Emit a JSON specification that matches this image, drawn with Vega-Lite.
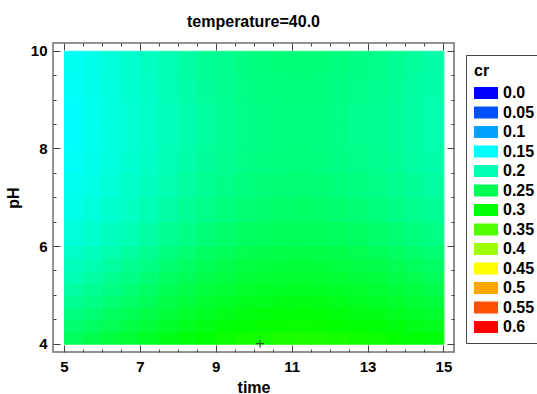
{
"$schema": "https://vega.github.io/schema/vega-lite/v6.json",
"autosize": {"type": "none"},
"padding": {"left": 53, "top": 43, "right": 83, "bottom": 42},
"width": 401,
"height": 309,
"background": "white",
"config": {
  "view": {"stroke": "#707070", "strokeWidth": 1.5},
  "font": "Liberation Sans",
  "axis": {"labelFont": "Liberation Sans", "labelFontWeight": "bold", "labelFontSize": 15, "labelColor": "black", "titleFont": "Liberation Sans", "titleFontWeight": "bold", "titleFontSize": 16, "titleColor": "black", "domain": false, "grid": false, "tickColor": "#444", "tickWidth": 1, "labelFlush": false, "labelOverlap": false}
},
"title": {"text": "temperature=40.0", "font": "Liberation Sans", "fontSize": 16, "fontWeight": "bold", "color": "black", "frame": "group", "baseline": "alphabetic", "offset": 0, "anchor": "middle"},
"layer": [
  {
    "data": {"values": [
{"t":5,"p":6,"cr":0.175},{"t":5.5,"p":6,"cr":0.183},{"t":6,"p":6,"cr":0.191},{"t":6.5,"p":6,"cr":0.199},{"t":7,"p":6,"cr":0.207},{"t":7.5,"p":6,"cr":0.216},{"t":8,"p":6,"cr":0.223},{"t":8.5,"p":6,"cr":0.230},{"t":9,"p":6,"cr":0.236},{"t":9.5,"p":6,"cr":0.241},{"t":10,"p":6,"cr":0.244},{"t":10.5,"p":6,"cr":0.246},{"t":11,"p":6,"cr":0.247},{"t":11.5,"p":6,"cr":0.246},{"t":12,"p":6,"cr":0.243},{"t":12.5,"p":6,"cr":0.240},{"t":13,"p":6,"cr":0.237},{"t":13.5,"p":6,"cr":0.232},{"t":14,"p":6,"cr":0.227},{"t":14.5,"p":6,"cr":0.222},
{"t":5,"p":6.5,"cr":0.166},{"t":5.5,"p":6.5,"cr":0.174},{"t":6,"p":6.5,"cr":0.182},{"t":6.5,"p":6.5,"cr":0.190},{"t":7,"p":6.5,"cr":0.198},{"t":7.5,"p":6.5,"cr":0.207},{"t":8,"p":6.5,"cr":0.214},{"t":8.5,"p":6.5,"cr":0.221},{"t":9,"p":6.5,"cr":0.227},{"t":9.5,"p":6.5,"cr":0.232},{"t":10,"p":6.5,"cr":0.235},{"t":10.5,"p":6.5,"cr":0.237},{"t":11,"p":6.5,"cr":0.238},{"t":11.5,"p":6.5,"cr":0.237},{"t":12,"p":6.5,"cr":0.234},{"t":12.5,"p":6.5,"cr":0.231},{"t":13,"p":6.5,"cr":0.228},{"t":13.5,"p":6.5,"cr":0.223},{"t":14,"p":6.5,"cr":0.218},{"t":14.5,"p":6.5,"cr":0.213},
{"t":5,"p":7,"cr":0.160},{"t":5.5,"p":7,"cr":0.168},{"t":6,"p":7,"cr":0.176},{"t":6.5,"p":7,"cr":0.184},{"t":7,"p":7,"cr":0.192},{"t":7.5,"p":7,"cr":0.201},{"t":8,"p":7,"cr":0.208},{"t":8.5,"p":7,"cr":0.215},{"t":9,"p":7,"cr":0.221},{"t":9.5,"p":7,"cr":0.226},{"t":10,"p":7,"cr":0.229},{"t":10.5,"p":7,"cr":0.231},{"t":11,"p":7,"cr":0.232},{"t":11.5,"p":7,"cr":0.231},{"t":12,"p":7,"cr":0.228},{"t":12.5,"p":7,"cr":0.225},{"t":13,"p":7,"cr":0.222},{"t":13.5,"p":7,"cr":0.217},{"t":14,"p":7,"cr":0.212},{"t":14.5,"p":7,"cr":0.207},
{"t":5,"p":7.5,"cr":0.156},{"t":5.5,"p":7.5,"cr":0.164},{"t":6,"p":7.5,"cr":0.172},{"t":6.5,"p":7.5,"cr":0.180},{"t":7,"p":7.5,"cr":0.188},{"t":7.5,"p":7.5,"cr":0.197},{"t":8,"p":7.5,"cr":0.204},{"t":8.5,"p":7.5,"cr":0.211},{"t":9,"p":7.5,"cr":0.217},{"t":9.5,"p":7.5,"cr":0.222},{"t":10,"p":7.5,"cr":0.225},{"t":10.5,"p":7.5,"cr":0.227},{"t":11,"p":7.5,"cr":0.228},{"t":11.5,"p":7.5,"cr":0.227},{"t":12,"p":7.5,"cr":0.224},{"t":12.5,"p":7.5,"cr":0.221},{"t":13,"p":7.5,"cr":0.218},{"t":13.5,"p":7.5,"cr":0.213},{"t":14,"p":7.5,"cr":0.208},{"t":14.5,"p":7.5,"cr":0.203},
{"t":5,"p":8,"cr":0.154},{"t":5.5,"p":8,"cr":0.162},{"t":6,"p":8,"cr":0.170},{"t":6.5,"p":8,"cr":0.178},{"t":7,"p":8,"cr":0.186},{"t":7.5,"p":8,"cr":0.195},{"t":8,"p":8,"cr":0.202},{"t":8.5,"p":8,"cr":0.209},{"t":9,"p":8,"cr":0.215},{"t":9.5,"p":8,"cr":0.220},{"t":10,"p":8,"cr":0.223},{"t":10.5,"p":8,"cr":0.225},{"t":11,"p":8,"cr":0.226},{"t":11.5,"p":8,"cr":0.225},{"t":12,"p":8,"cr":0.222},{"t":12.5,"p":8,"cr":0.219},{"t":13,"p":8,"cr":0.216},{"t":13.5,"p":8,"cr":0.211},{"t":14,"p":8,"cr":0.206},{"t":14.5,"p":8,"cr":0.201},
{"t":5,"p":8.5,"cr":0.154},{"t":5.5,"p":8.5,"cr":0.162},{"t":6,"p":8.5,"cr":0.170},{"t":6.5,"p":8.5,"cr":0.178},{"t":7,"p":8.5,"cr":0.186},{"t":7.5,"p":8.5,"cr":0.195},{"t":8,"p":8.5,"cr":0.202},{"t":8.5,"p":8.5,"cr":0.209},{"t":9,"p":8.5,"cr":0.215},{"t":9.5,"p":8.5,"cr":0.220},{"t":10,"p":8.5,"cr":0.223},{"t":10.5,"p":8.5,"cr":0.225},{"t":11,"p":8.5,"cr":0.226},{"t":11.5,"p":8.5,"cr":0.225},{"t":12,"p":8.5,"cr":0.222},{"t":12.5,"p":8.5,"cr":0.219},{"t":13,"p":8.5,"cr":0.216},{"t":13.5,"p":8.5,"cr":0.211},{"t":14,"p":8.5,"cr":0.206},{"t":14.5,"p":8.5,"cr":0.201},
{"t":5,"p":9,"cr":0.156},{"t":5.5,"p":9,"cr":0.164},{"t":6,"p":9,"cr":0.172},{"t":6.5,"p":9,"cr":0.180},{"t":7,"p":9,"cr":0.188},{"t":7.5,"p":9,"cr":0.197},{"t":8,"p":9,"cr":0.204},{"t":8.5,"p":9,"cr":0.211},{"t":9,"p":9,"cr":0.217},{"t":9.5,"p":9,"cr":0.222},{"t":10,"p":9,"cr":0.225},{"t":10.5,"p":9,"cr":0.227},{"t":11,"p":9,"cr":0.228},{"t":11.5,"p":9,"cr":0.227},{"t":12,"p":9,"cr":0.224},{"t":12.5,"p":9,"cr":0.221},{"t":13,"p":9,"cr":0.218},{"t":13.5,"p":9,"cr":0.213},{"t":14,"p":9,"cr":0.208},{"t":14.5,"p":9,"cr":0.203},
{"t":5,"p":9.5,"cr":0.158},{"t":5.5,"p":9.5,"cr":0.166},{"t":6,"p":9.5,"cr":0.174},{"t":6.5,"p":9.5,"cr":0.182},{"t":7,"p":9.5,"cr":0.190},{"t":7.5,"p":9.5,"cr":0.199},{"t":8,"p":9.5,"cr":0.206},{"t":8.5,"p":9.5,"cr":0.213},{"t":9,"p":9.5,"cr":0.219},{"t":9.5,"p":9.5,"cr":0.224},{"t":10,"p":9.5,"cr":0.227},{"t":10.5,"p":9.5,"cr":0.229},{"t":11,"p":9.5,"cr":0.230},{"t":11.5,"p":9.5,"cr":0.229},{"t":12,"p":9.5,"cr":0.226},{"t":12.5,"p":9.5,"cr":0.223},{"t":13,"p":9.5,"cr":0.220},{"t":13.5,"p":9.5,"cr":0.215},{"t":14,"p":9.5,"cr":0.210},{"t":14.5,"p":9.5,"cr":0.205}
    ]},
    "mark": {"type": "rect", "strokeWidth": 1},
    "encoding": {
      "x": {"field": "t", "type": "quantitative", "bin": {"binned": true, "step": 0.5},
        "scale": {"domain": [4.71, 15.28], "nice": false, "zero": false},
        "axis": {"orient": "bottom", "values": [5,5.5,6,6.5,7,7.5,8,8.5,9,9.5,10,10.5,11,11.5,12,12.5,13,13.5,14,14.5,15], "labelExpr": "datum.value % 2 == 1 ? format(datum.value, 'd') : ''", "tickSize": {"condition": {"test": "datum.value % 2 == 1", "value": -7}, "value": -3}, "labelPadding": 14, "title": "time", "titlePadding": 1}},
      "y": {"field": "p", "type": "quantitative", "bin": {"binned": true, "step": 0.5},
        "scale": {"domain": [3.83, 10.16], "nice": false, "zero": false},
        "axis": {"orient": "left", "values": [4,4.5,5,5.5,6,6.5,7,7.5,8,8.5,9,9.5,10], "labelExpr": "datum.value % 2 == 0 ? format(datum.value, 'd') : ''", "tickSize": {"condition": {"test": "datum.value % 2 == 0", "value": -7}, "value": -3}, "labelPadding": 13, "title": "pH", "titlePadding": 9}},
      "color": {"field": "cr", "type": "quantitative", "legend": null,
        "scale": {"type": "linear", "domain": [0,0.05,0.1,0.15,0.2,0.25,0.3,0.35,0.4,0.45,0.5,0.55,0.6], "range": ["#0000ff","#0050ff","#00a0ff","#00ffff","#00ffb0","#00ff50","#00ff00","#50ff00","#a0ff00","#ffff00","#ffa500","#ff5000","#ff0000"], "interpolate": "rgb"}},
      "stroke": {"field": "cr", "type": "quantitative", "legend": null,
        "scale": {"type": "linear", "domain": [0,0.05,0.1,0.15,0.2,0.25,0.3,0.35,0.4,0.45,0.5,0.55,0.6], "range": ["#0000ff","#0050ff","#00a0ff","#00ffff","#00ffb0","#00ff50","#00ff00","#50ff00","#a0ff00","#ffff00","#ffa500","#ff5000","#ff0000"], "interpolate": "rgb"}}
    }
  },
  {
    "data": {"values": [
{"t":5,"p":4,"cr":0.245},{"t":5.5,"p":4,"cr":0.253},{"t":6,"p":4,"cr":0.261},{"t":6.5,"p":4,"cr":0.269},{"t":7,"p":4,"cr":0.277},{"t":7.5,"p":4,"cr":0.286},{"t":8,"p":4,"cr":0.293},{"t":8.5,"p":4,"cr":0.300},{"t":9,"p":4,"cr":0.306},{"t":9.5,"p":4,"cr":0.311},{"t":10,"p":4,"cr":0.314},{"t":10.5,"p":4,"cr":0.316},{"t":11,"p":4,"cr":0.317},{"t":11.5,"p":4,"cr":0.316},{"t":12,"p":4,"cr":0.313},{"t":12.5,"p":4,"cr":0.310},{"t":13,"p":4,"cr":0.307},{"t":13.5,"p":4,"cr":0.302},{"t":14,"p":4,"cr":0.297},{"t":14.5,"p":4,"cr":0.292},
{"t":5,"p":4.25,"cr":0.234},{"t":5.5,"p":4.25,"cr":0.242},{"t":6,"p":4.25,"cr":0.250},{"t":6.5,"p":4.25,"cr":0.258},{"t":7,"p":4.25,"cr":0.266},{"t":7.5,"p":4.25,"cr":0.275},{"t":8,"p":4.25,"cr":0.282},{"t":8.5,"p":4.25,"cr":0.289},{"t":9,"p":4.25,"cr":0.295},{"t":9.5,"p":4.25,"cr":0.300},{"t":10,"p":4.25,"cr":0.303},{"t":10.5,"p":4.25,"cr":0.305},{"t":11,"p":4.25,"cr":0.306},{"t":11.5,"p":4.25,"cr":0.305},{"t":12,"p":4.25,"cr":0.302},{"t":12.5,"p":4.25,"cr":0.299},{"t":13,"p":4.25,"cr":0.296},{"t":13.5,"p":4.25,"cr":0.291},{"t":14,"p":4.25,"cr":0.286},{"t":14.5,"p":4.25,"cr":0.281},
{"t":5,"p":4.5,"cr":0.224},{"t":5.5,"p":4.5,"cr":0.232},{"t":6,"p":4.5,"cr":0.240},{"t":6.5,"p":4.5,"cr":0.248},{"t":7,"p":4.5,"cr":0.256},{"t":7.5,"p":4.5,"cr":0.265},{"t":8,"p":4.5,"cr":0.272},{"t":8.5,"p":4.5,"cr":0.279},{"t":9,"p":4.5,"cr":0.285},{"t":9.5,"p":4.5,"cr":0.290},{"t":10,"p":4.5,"cr":0.293},{"t":10.5,"p":4.5,"cr":0.295},{"t":11,"p":4.5,"cr":0.296},{"t":11.5,"p":4.5,"cr":0.295},{"t":12,"p":4.5,"cr":0.292},{"t":12.5,"p":4.5,"cr":0.289},{"t":13,"p":4.5,"cr":0.286},{"t":13.5,"p":4.5,"cr":0.281},{"t":14,"p":4.5,"cr":0.276},{"t":14.5,"p":4.5,"cr":0.271},
{"t":5,"p":4.75,"cr":0.215},{"t":5.5,"p":4.75,"cr":0.223},{"t":6,"p":4.75,"cr":0.231},{"t":6.5,"p":4.75,"cr":0.239},{"t":7,"p":4.75,"cr":0.247},{"t":7.5,"p":4.75,"cr":0.256},{"t":8,"p":4.75,"cr":0.263},{"t":8.5,"p":4.75,"cr":0.270},{"t":9,"p":4.75,"cr":0.276},{"t":9.5,"p":4.75,"cr":0.281},{"t":10,"p":4.75,"cr":0.284},{"t":10.5,"p":4.75,"cr":0.286},{"t":11,"p":4.75,"cr":0.287},{"t":11.5,"p":4.75,"cr":0.286},{"t":12,"p":4.75,"cr":0.283},{"t":12.5,"p":4.75,"cr":0.280},{"t":13,"p":4.75,"cr":0.277},{"t":13.5,"p":4.75,"cr":0.272},{"t":14,"p":4.75,"cr":0.267},{"t":14.5,"p":4.75,"cr":0.262},
{"t":5,"p":5,"cr":0.207},{"t":5.5,"p":5,"cr":0.215},{"t":6,"p":5,"cr":0.223},{"t":6.5,"p":5,"cr":0.231},{"t":7,"p":5,"cr":0.239},{"t":7.5,"p":5,"cr":0.248},{"t":8,"p":5,"cr":0.255},{"t":8.5,"p":5,"cr":0.262},{"t":9,"p":5,"cr":0.268},{"t":9.5,"p":5,"cr":0.273},{"t":10,"p":5,"cr":0.276},{"t":10.5,"p":5,"cr":0.278},{"t":11,"p":5,"cr":0.279},{"t":11.5,"p":5,"cr":0.278},{"t":12,"p":5,"cr":0.275},{"t":12.5,"p":5,"cr":0.272},{"t":13,"p":5,"cr":0.269},{"t":13.5,"p":5,"cr":0.264},{"t":14,"p":5,"cr":0.259},{"t":14.5,"p":5,"cr":0.254},
{"t":5,"p":5.25,"cr":0.199},{"t":5.5,"p":5.25,"cr":0.207},{"t":6,"p":5.25,"cr":0.215},{"t":6.5,"p":5.25,"cr":0.223},{"t":7,"p":5.25,"cr":0.231},{"t":7.5,"p":5.25,"cr":0.240},{"t":8,"p":5.25,"cr":0.247},{"t":8.5,"p":5.25,"cr":0.254},{"t":9,"p":5.25,"cr":0.260},{"t":9.5,"p":5.25,"cr":0.265},{"t":10,"p":5.25,"cr":0.268},{"t":10.5,"p":5.25,"cr":0.270},{"t":11,"p":5.25,"cr":0.271},{"t":11.5,"p":5.25,"cr":0.270},{"t":12,"p":5.25,"cr":0.267},{"t":12.5,"p":5.25,"cr":0.264},{"t":13,"p":5.25,"cr":0.261},{"t":13.5,"p":5.25,"cr":0.256},{"t":14,"p":5.25,"cr":0.251},{"t":14.5,"p":5.25,"cr":0.246},
{"t":5,"p":5.5,"cr":0.192},{"t":5.5,"p":5.5,"cr":0.200},{"t":6,"p":5.5,"cr":0.208},{"t":6.5,"p":5.5,"cr":0.216},{"t":7,"p":5.5,"cr":0.224},{"t":7.5,"p":5.5,"cr":0.233},{"t":8,"p":5.5,"cr":0.240},{"t":8.5,"p":5.5,"cr":0.247},{"t":9,"p":5.5,"cr":0.253},{"t":9.5,"p":5.5,"cr":0.258},{"t":10,"p":5.5,"cr":0.261},{"t":10.5,"p":5.5,"cr":0.263},{"t":11,"p":5.5,"cr":0.264},{"t":11.5,"p":5.5,"cr":0.263},{"t":12,"p":5.5,"cr":0.260},{"t":12.5,"p":5.5,"cr":0.257},{"t":13,"p":5.5,"cr":0.254},{"t":13.5,"p":5.5,"cr":0.249},{"t":14,"p":5.5,"cr":0.244},{"t":14.5,"p":5.5,"cr":0.239},
{"t":5,"p":5.75,"cr":0.185},{"t":5.5,"p":5.75,"cr":0.193},{"t":6,"p":5.75,"cr":0.201},{"t":6.5,"p":5.75,"cr":0.209},{"t":7,"p":5.75,"cr":0.217},{"t":7.5,"p":5.75,"cr":0.226},{"t":8,"p":5.75,"cr":0.233},{"t":8.5,"p":5.75,"cr":0.240},{"t":9,"p":5.75,"cr":0.246},{"t":9.5,"p":5.75,"cr":0.251},{"t":10,"p":5.75,"cr":0.254},{"t":10.5,"p":5.75,"cr":0.256},{"t":11,"p":5.75,"cr":0.257},{"t":11.5,"p":5.75,"cr":0.256},{"t":12,"p":5.75,"cr":0.253},{"t":12.5,"p":5.75,"cr":0.250},{"t":13,"p":5.75,"cr":0.247},{"t":13.5,"p":5.75,"cr":0.242},{"t":14,"p":5.75,"cr":0.237},{"t":14.5,"p":5.75,"cr":0.232}
    ]},
    "mark": {"type": "rect", "strokeWidth": 1},
    "encoding": {
      "x": {"field": "t", "type": "quantitative", "bin": {"binned": true, "step": 0.5}, "axis": null},
      "y": {"field": "p", "type": "quantitative", "bin": {"binned": true, "step": 0.25}, "axis": null},
      "color": {"field": "cr", "type": "quantitative", "legend": null,
        "scale": {"type": "linear", "domain": [0,0.05,0.1,0.15,0.2,0.25,0.3,0.35,0.4,0.45,0.5,0.55,0.6], "range": ["#0000ff","#0050ff","#00a0ff","#00ffff","#00ffb0","#00ff50","#00ff00","#50ff00","#a0ff00","#ffff00","#ffa500","#ff5000","#ff0000"], "interpolate": "rgb"}},
      "stroke": {"field": "cr", "type": "quantitative", "legend": null,
        "scale": {"type": "linear", "domain": [0,0.05,0.1,0.15,0.2,0.25,0.3,0.35,0.4,0.45,0.5,0.55,0.6], "range": ["#0000ff","#0050ff","#00a0ff","#00ffff","#00ffb0","#00ff50","#00ff00","#50ff00","#a0ff00","#ffff00","#ffa500","#ff5000","#ff0000"], "interpolate": "rgb"}}
    }
  },
  {
    "data": {"values": [{"t": 10.17, "p": 4.0}]},
    "mark": {"type": "point", "shape": "M-1,0H1M0,-1V1", "size": 64, "filled": false, "stroke": "#1d6b1d", "strokeWidth": 1.2, "opacity": 1},
    "encoding": {
      "x": {"field": "t", "type": "quantitative", "scale": {"domain": [4.71, 15.28], "nice": false, "zero": false},
        "axis": {"orient": "top", "values": [5,5.5,6,6.5,7,7.5,8,8.5,9,9.5,10,10.5,11,11.5,12,12.5,13,13.5,14,14.5,15], "labels": false, "title": null, "tickSize": {"condition": {"test": "datum.value % 2 == 1", "value": -7}, "value": -3}}},
      "y": {"field": "p", "type": "quantitative", "scale": {"domain": [3.83, 10.16], "nice": false, "zero": false},
        "axis": {"orient": "right", "values": [4,4.5,5,5.5,6,6.5,7,7.5,8,8.5,9,9.5,10], "labels": false, "title": null, "tickSize": {"condition": {"test": "datum.value % 2 == 0", "value": -7}, "value": -3}}}
    }
  },
  {
    "data": {"values": [{"lvl":"0.0"},{"lvl":"0.05"},{"lvl":"0.1"},{"lvl":"0.15"},{"lvl":"0.2"},{"lvl":"0.25"},{"lvl":"0.3"},{"lvl":"0.35"},{"lvl":"0.4"},{"lvl":"0.45"},{"lvl":"0.5"},{"lvl":"0.55"},{"lvl":"0.6"}]},
    "mark": {"type": "point", "filled": true, "opacity": 0},
    "encoding": {
      "color": {"field": "lvl", "type": "nominal",
        "scale": {"domain": ["0.0","0.05","0.1","0.15","0.2","0.25","0.3","0.35","0.4","0.45","0.5","0.55","0.6"], "range": ["#0000ff","#0050ff","#00a0ff","#00ffff","#00ffb0","#00ff50","#00ff00","#50ff00","#a0ff00","#ffff00","#ffa500","#ff5000","#ff0000"]},
        "legend": {"orient": "none", "legendX": 413, "legendY": 12, "title": "cr", "titleFont": "Liberation Sans", "titleFontSize": 16, "titleFontWeight": "bold", "titleColor": "black", "titlePadding": 6, "labelFont": "Liberation Sans", "labelFontSize": 16, "labelFontWeight": "bold", "labelColor": "black", "symbolType": "M-2,-1H2V1H-2Z", "symbolSize": 144, "symbolOpacity": 1, "symbolStrokeWidth": 0, "symbolOffset": 4, "labelOffset": 9, "rowPadding": 3.5, "padding": 8, "strokeColor": "#444", "fillColor": "white"}}
    }
  }
],
"resolve": {"scale": {"color": "independent", "stroke": "independent"}, "axis": {"x": "independent", "y": "independent"}}
}
